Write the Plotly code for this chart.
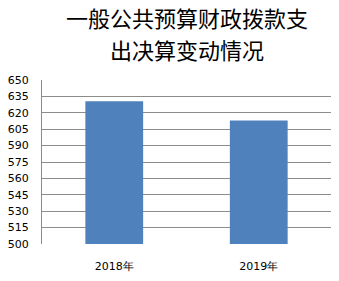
import plotly.graph_objects as go

# 一般公共预算财政拨款支出决算（单位：万元）
years = ["2018年", "2019年"]
spending = [630.5, 613]
tick_vals = list(range(500, 651, 15))
title_lines = ["一般公共预算财政拨款支", "出决算变动情况"]

fig = go.Figure(
    go.Bar(
        x=years,
        y=spending,
        marker=dict(color="#4f81bd", line=dict(width=0)),
        width=0.4,
    )
)

# two-line heading, each line placed on its own (centres 32 px apart)
for i, line in enumerate(title_lines):
    fig.add_annotation(
        text=line,
        xref="paper",
        yref="paper",
        x=0.5,
        xanchor="center",
        y=1 + (64 - 32 * i) / 167,
        yanchor="middle",
        showarrow=False,
        font=dict(family="Noto Sans CJK SC", size=22, color="black"),
    )

fig.update_layout(
    width=339,
    height=281,
    margin=dict(l=40, r=8, t=80, b=34),
    paper_bgcolor="white",
    plot_bgcolor="white",
    showlegend=False,
    font=dict(family="DejaVu Sans", size=11, color="black"),
)

fig.update_yaxes(
    range=[500, 650],
    tickvals=tick_vals,
    showgrid=True,
    gridcolor="#8c8c8c",
    gridwidth=1,
    showline=True,
    linecolor="#8c8c8c",
    linewidth=1,
    zeroline=False,
    ticks="",
    ticklabelstandoff=10,
    tickfont=dict(family="DejaVu Sans", size=11),
)

fig.update_xaxes(
    showline=False,
    showgrid=False,
    ticks="",
    ticklabelstandoff=14,
    tickfont=dict(family="DejaVu Sans", size=11),
)

fig.write_html("out.html")
